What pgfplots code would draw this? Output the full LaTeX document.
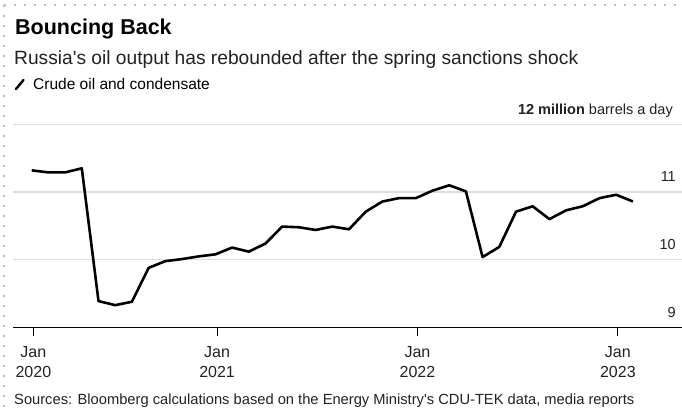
\documentclass[border=0pt]{standalone}
\usepackage{fontspec}
\setmainfont{Liberation Sans}[Ligatures=TeXOff]
\usepackage{pgfplots}
\pgfplotsset{compat=1.18}
\definecolor{gridgray}{HTML}{DDDDDD}
\definecolor{txt}{HTML}{222222}
\definecolor{dotgray}{HTML}{BBBBBB}
\pgfplotstableread{
k y
0 11.32
1 11.29
2 11.29
3 11.35
4 9.39
5 9.33
6 9.38
7 9.88
8 9.98
9 10.01
10 10.05
11 10.08
12 10.18
13 10.12
14 10.24
15 10.49
16 10.48
17 10.44
18 10.49
19 10.45
20 10.71
21 10.86
22 10.91
23 10.91
24 11.02
25 11.10
26 11.01
27 10.04
28 10.19
29 10.71
30 10.79
31 10.60
32 10.73
33 10.79
34 10.91
35 10.96
36 10.86
}\oil
\begin{document}
\begin{tikzpicture}
\useasboundingbox (0,0) rectangle (682bp,-414bp);
\fill[white] (0,0) rectangle (682bp,-414bp);
\draw[dotgray, line width=1.6bp, dash pattern=on 1.6bp off 8.4bp] (4bp,-5bp) -- (682bp,-5bp);
\draw[dotgray, line width=1.6bp, dash pattern=on 1.6bp off 8.4bp] (4bp,-5bp) -- (4bp,-414bp);
\node[anchor=base west, inner sep=0pt, font=\fontsize{21.5bp}{24bp}\selectfont\bfseries] at (15bp,-34bp) {Bouncing Back};
\node[anchor=base west, inner sep=0pt, font=\fontsize{19.2bp}{22bp}\selectfont, text=txt] at (14bp,-64bp) {Russia's oil output has rebounded after the spring sanctions shock};
\draw[line width=2.4bp, line cap=round] (16bp,-89bp) -- (23.5bp,-80bp);
\node[anchor=base west, inner sep=0pt, font=\fontsize{15.5bp}{18bp}\selectfont] at (33bp,-89bp) {Crude oil and condensate};
\node[anchor=base west, inner sep=0pt, font=\fontsize{14.7bp}{17bp}\selectfont, text=txt] at (14bp,-404bp) {Sources: Bloomberg calculations based on the Energy Ministry's CDU-TEK data, media reports};
\begin{axis}[
  at={(13bp,-327.5bp)}, anchor=south west,
  scale only axis, width=669bp, height=203.2bp,
  xmin=-1.12, xmax=38.94, ymin=9, ymax=12,
  axis line style={draw=none},
  clip=false,
  /pgf/number format/assume math mode=true,
  ytick={9,10,11,12},
  yticklabels={9,10,11,{\textbf{12 million} barrels a day\hspace*{3bp}}},
  ymajorgrids,
  grid style={gridgray, line width=1.4bp},
  yticklabel pos=right,
  ytick style={draw=none},
  yticklabel style={anchor=base east, inner sep=0pt, xshift=-14bp, yshift=10.3bp, font=\fontsize{14.5bp}{17bp}\selectfont, text=txt},
  extra y ticks={9},
  extra y tick labels={},
  extra y tick style={grid style={black, line width=1.4bp}},
  xtick={0.1,11.1,23.1,35.1},
  xticklabels={{Jan\\2020},{Jan\\2021},{Jan\\2022},{Jan\\2023}},
  xtick pos=bottom,
  tick align=outside,
  major tick length=8bp,
  xtick style={black, line width=0.9bp},
  xticklabel style={align=center, anchor=north, inner sep=0pt, yshift=-11bp, font=\fontsize{16bp}{20bp}\selectfont, text=txt},
]
\addplot[black, line width=2.6bp, line join=round, no marks] table[x=k, y=y] {\oil};
\end{axis}
\end{tikzpicture}
\end{document}
